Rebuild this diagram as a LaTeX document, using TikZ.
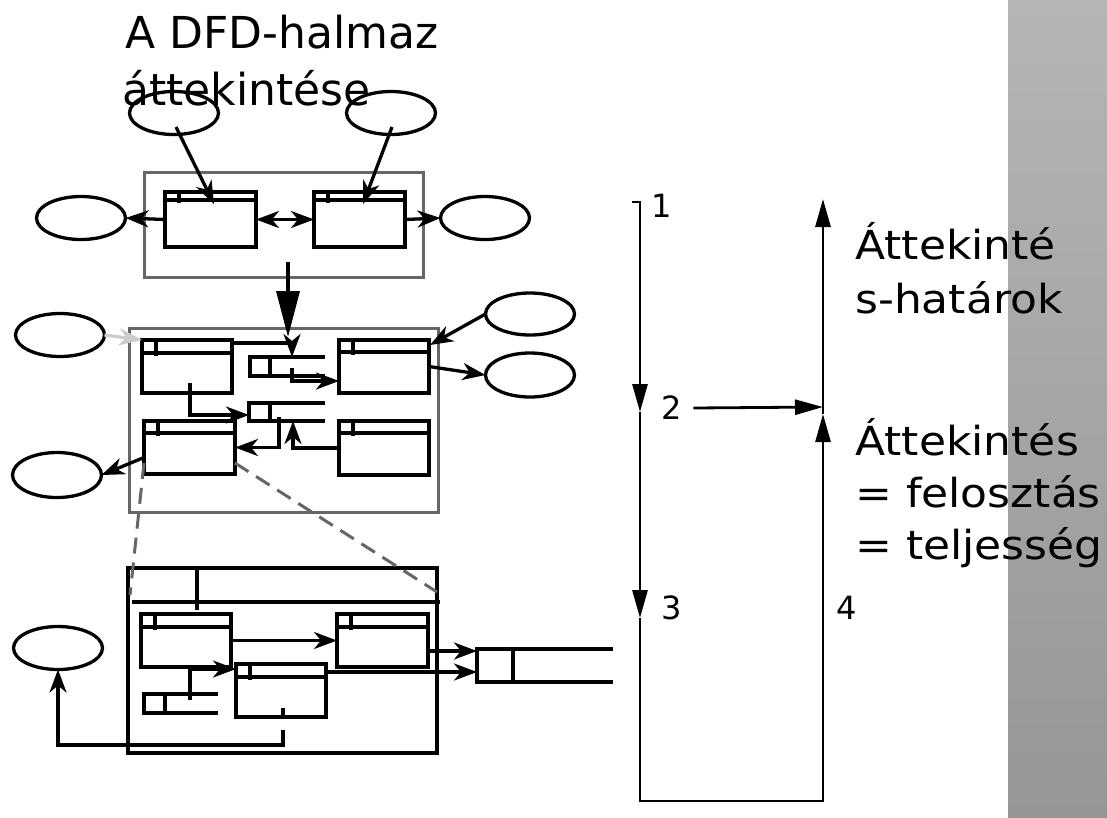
\documentclass[tikz,border=0pt]{standalone}
\usepackage{fontspec}
\setmainfont{DejaVu Sans}
\newfontfamily\sidefont[FakeStretch=1.1]{DejaVu Sans}
\usetikzlibrary{arrows.meta,shapes.geometric}
\definecolor{grpgray}{HTML}{666666}
\definecolor{lightarrow}{HTML}{CCCCCC}
\definecolor{bartop}{HTML}{B5B5B5}
\definecolor{barbot}{HTML}{969696}
\newcommand\procbox[6]{%
  \node[proc, minimum width={(#4-#2)*1pt}, minimum height={(#5-#3)*1pt}] (#1) at ({(#2+#4)/2},{(#3+#5)/2}) {};
  \draw[dfd] ([yshift={-#6pt}]#1.north west) -- ([yshift={-#6pt}]#1.north east);
  \draw[dfd] ([xshift=14pt]#1.north west) -- ++(0pt,{-(#6+3)*1pt});
}
\newcommand\dstore[6]{%
  \node[inner sep=0pt, outer sep=0pt, minimum width={(#4-#2)*1pt}, minimum height={(#5-#3)*1pt}] (#1) at ({(#2+#4)/2},{(#3+#5)/2}) {};
  \draw[dfd] (#1.north east) -- (#1.north west) -- (#1.south west) -- (#1.south east);
  \draw[dfd] (#6,#3) -- (#6,#5);
}
\begin{document}
\begin{tikzpicture}[x=1pt,y=-1pt,
  dfd/.style={line width=3.2pt},
  proc/.style={draw, line width=3.2pt, rectangle, inner sep=0pt, outer sep=0pt},
  ext/.style={draw, ellipse, line width=3.3pt, inner sep=0pt, outer sep=0pt, minimum width=89pt, minimum height=43pt},
  grp/.style={draw=grpgray, line width=3pt, rectangle, inner sep=0pt, outer sep=0pt},
  blk/.style={draw, line width=3.2pt, rectangle, inner sep=0pt, outer sep=0pt},
  tip/.tip={Stealth[length=23pt,width=17pt,inset=7pt]},
  dfdarrow/.style={line width=3.3pt, -tip},
  dashline/.style={draw=grpgray, line width=3pt, dash pattern=on 16pt off 9pt},
  flowline/.style={line width=2.8pt, -{Triangle[length=28pt,width=15pt]}},
  num/.style={font=\fontsize{32}{36}\selectfont, inner sep=2pt},
  bigtext/.style={font=\fontsize{44}{50}\selectfont, inner sep=0pt, anchor=base west},
  sidetext/.style={font=\sidefont\fontsize{40}{46}\selectfont, inner sep=0pt, anchor=base west}
]
\useasboundingbox (0,0) rectangle (1107,817);
% gray side bar
\shade[top color=bartop, bottom color=barbot] (1008,0) rectangle (1107,817);

% title
\node[bigtext] (title1) at (125,48) {A DFD-halmaz};
\node[bigtext] (title2) at (122,105) {áttekintése};

% ---------- top level ----------
\node[grp, minimum width=279pt, minimum height=105pt] (G1) at (283.5,224.5) {};
\node[ext] (e1) at (174,113) {};
\node[ext] (e2) at (391,113) {};
\node[ext] (e3) at (81,218) {};
\node[ext] (e4) at (485,218) {};
\procbox{P1}{165}{192}{256}{247}{8}
\procbox{P2}{314}{192}{405}{247}{8}
\draw[dfdarrow] ([shift={(2,14)}]e1.center) -- ([shift={(49,12)}]P1.north west);
\draw[dfdarrow] ([shift={(1,14)}]e2.center) -- ([shift={(49,12)}]P2.north west);
\draw[dfdarrow] (P1.west) -- (e3.east);
\draw[line width=3.3pt, tip-tip] (P1.east) -- (P2.west);
\draw[dfdarrow] (P2.east) -- (e4.west);

% ---------- middle level ----------
\node[grp, minimum width=309pt, minimum height=184pt] (G2) at (283.5,420) {};
\draw[line width=3.3pt, -{Triangle[length=46pt,width=23pt]}] ([shift={(4.5,-15)}]G1.south) -- ([shift={(4.5,9)}]G2.north);
\node[ext] (m1) at (60,335) {};
\node[ext, minimum height=42pt] (m2) at (530,314) {};
\node[ext, minimum height=44pt] (m3) at (530,375) {};
\node[ext, minimum height=45pt] (m4) at (57,475) {};
\procbox{M1}{142}{340}{232}{393}{13}
\procbox{M2}{339}{340}{429}{393}{12}
\procbox{M3}{144}{421}{235}{474}{12}
\procbox{M4}{339}{421}{429}{475}{12}
\dstore{S1}{250}{357}{325}{376}{270}
\dstore{S2}{249}{403}{325}{421}{270}
\draw[dfdarrow, draw=lightarrow] (m1.east) -- (M1.north west);
\draw[dfdarrow] ([yshift=-3pt]M1.north east) -| ([xshift=42pt]S1.north west);
\draw[dfdarrow] ([shift={(42,11)}]S1.north west) |- ([yshift=-14.5pt]M2.west);
\draw[dfdarrow] ([shift={(48,43)}]M1.north west) |- ([yshift=-3pt]S2.west);
\draw[dfdarrow] ([shift={(30,14)}]S2.north west) |- (M3.east);
\draw[dfdarrow] (M4.west) -| ([xshift=44pt]S2.south west);
\draw[dfdarrow] ([yshift=-10pt]M3.west) -- (m4.east);
\draw[dfdarrow] (m2.west) -- ([shift={(1,5)}]M2.north east);
\draw[dfdarrow] (M2.east) -- (m3.west);

% ---------- bottom level ----------
\node[blk, minimum width=309pt, minimum height=185pt] (B) at (282.5,660.5) {};
\draw[dashline] ([yshift=11pt]M3.south west) -- ([shift={(2,27)}]B.north west);
\draw[dashline] ([yshift=11pt]M3.south east) -- ([shift={(0,24)}]B.north east);
\draw[dfd] ([shift={(4,34)}]B.north west) -- ([shift={(3,34)}]B.north east);
\draw[dfd] ([shift={(69,0)}]B.north west) -- ++(0,42);
\node[ext] (be) at (58,648) {};
\procbox{B1}{141}{614}{231}{667}{13}
\procbox{B2}{337}{614}{428}{667}{13}
\procbox{B3}{236}{664}{326}{717}{13}
\dstore{S3}{144}{694}{218}{713}{165}
\dstore{S4}{477}{649}{613}{682}{513}
\draw[dfdarrow] (B1.east) -- (B2.west);
\draw[dfdarrow] ([shift={(46,6)}]S3.north west) |- ([yshift=-5pt]B3.north west);
\draw[dfdarrow] ([yshift=-10.5pt]B2.east) -- ([yshift=-2pt]S4.north west);
\draw[dfdarrow] ([yshift=-8pt]B3.north east) -- ([yshift=-23pt]S4.north west);
\draw[dfdarrow] ([shift={(47,-9)}]B3.south west) -- ++(0,11) ++(0,11) -- ++(0,15) -| (be.south);

% ---------- right-hand flow ----------
\coordinate (f0) at (632,202);
\coordinate (f1) at (640,202);
\coordinate (f2) at (640,412);
\coordinate (f3) at (640,618);
\coordinate (f4) at (640,801);
\coordinate (f5) at (823,801);
\coordinate (f6) at (823,414);
\coordinate (f7) at (823,407);
\coordinate (f8) at (823,199);
\node[num] (n1) at (662,206) {1};
\node[num] (n2) at (672,408) {2};
\node[num] (n3) at (672,608) {3};
\node[num] (n4) at (847,608) {4};
\draw[flowline] (f0) -- (f1) -- (f2);
\draw[flowline] (f2) -- (f3);
\draw[flowline] (f3) -- (f4) -- (f5) -- (f6);
\draw[flowline] (f6) -- (f8);
\draw[flowline] ([xshift=9pt]n2.east) -- (f7);

\node[sidetext] (t1) at (855,259) {Áttekinté};
\node[sidetext] (t2) at (855,313) {s-határok};
\node[sidetext] (t3) at (855,455) {Áttekintés};
\node[sidetext] (t4) at (855,507) {= felosztás};
\node[sidetext] (t5) at (855,559) {= teljesség};
\end{tikzpicture}
\end{document}
